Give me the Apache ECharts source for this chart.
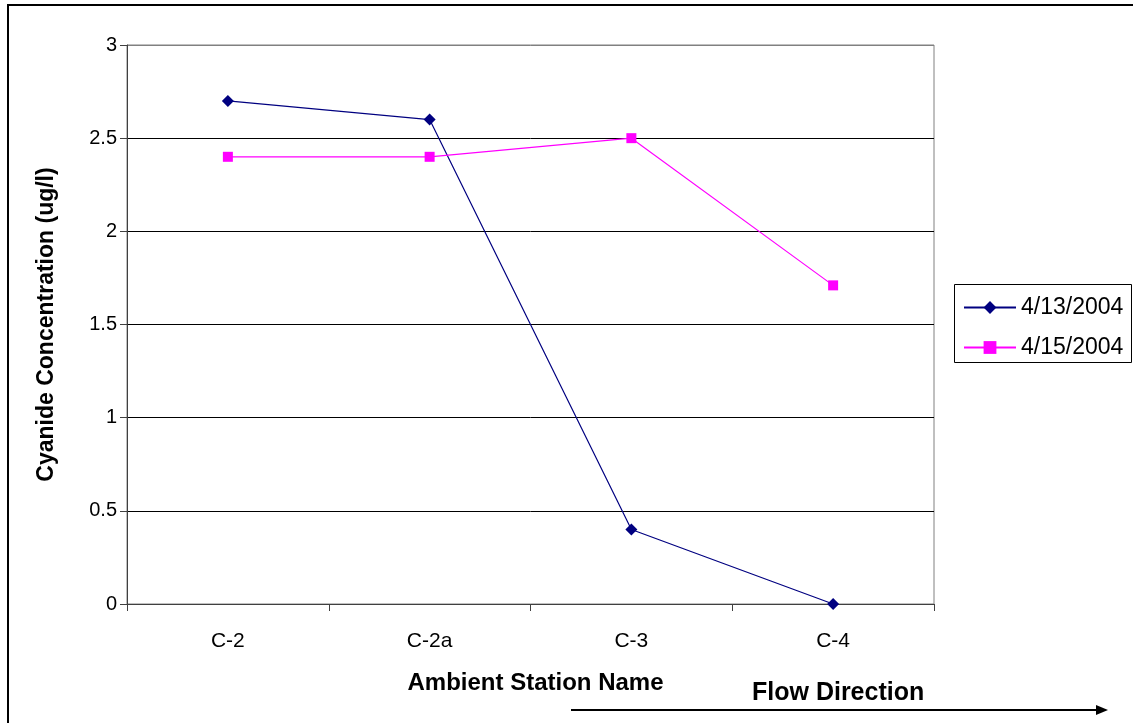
<!DOCTYPE html>
<html>
<head>
<meta charset="utf-8">
<script src="https://cdn.jsdelivr.net/npm/echarts@6/dist/echarts.min.js"></script>
<style>html,body{margin:0;padding:0;background:#fff;}#chart{width:1133px;height:723px;}</style>
</head>
<body>
<div id="chart"></div>
<script>
const categories = ['C-2', 'C-2a', 'C-3', 'C-4'];
const series1Name = '4/13/2004';
const series1 = [2.7, 2.6, 0.4, 0];
const series2Name = '4/15/2004';
const series2 = [2.4, 2.4, 2.5, 1.71];
const yTicks = [0, 0.5, 1, 1.5, 2, 2.5, 3];

const chart = echarts.init(document.getElementById('chart'));
const font = 'Liberation Sans, Arial, sans-serif';
chart.setOption({
  animation: false,
  backgroundColor: '#fff',
  grid: { left: 127, top: 45, width: 807, height: 559, show: true, borderColor: '#808080', borderWidth: 1 },
  xAxis: {
    type: 'category',
    data: categories,
    boundaryGap: true,
    name: 'Ambient Station Name',
    nameLocation: 'middle',
    nameGap: 67,
    nameTextStyle: { fontFamily: font, fontSize: 24, fontWeight: 'bold', color: '#000', padding: [0, 0, 0, 10] },
    axisLine: { lineStyle: { color: '#404040', width: 1 } },
    axisTick: { show: true, length: 7, lineStyle: { color: '#404040' } },
    axisLabel: { fontFamily: font, fontSize: 21, color: '#000', margin: 27 },
    splitLine: { show: false }
  },
  yAxis: {
    type: 'value',
    min: 0, max: 3, interval: 0.5,
    name: 'Cyanide Concentration (ug/l)',
    nameLocation: 'middle',
    nameGap: 69,
    nameTextStyle: { fontFamily: font, fontSize: 23, fontWeight: 'bold', color: '#000' },
    axisLine: { show: true, lineStyle: { color: '#404040', width: 1 } },
    axisTick: { show: true, length: 7, lineStyle: { color: '#404040' } },
    axisLabel: {
      fontFamily: font, fontSize: 20, color: '#000', margin: 10,
      formatter: v => (yTicks.indexOf(v) >= 0 ? String(v) : '')
    },
    splitLine: { show: true, lineStyle: { color: ['#000', '#000', '#000', '#000', '#000', '#000', '#808080'], width: 1 } }
  },
  legend: {
    orient: 'vertical',
    left: 958, top: 291,
    itemWidth: 52, itemHeight: 16,
    itemGap: 17,
    textStyle: { fontFamily: font, fontSize: 23, color: '#000' },
    data: [series1Name, series2Name]
  },
  series: [
    {
      name: series1Name, type: 'line', data: series1,
      symbol: 'diamond', symbolSize: 12,
      lineStyle: { color: '#000080', width: 1.2 },
      itemStyle: { color: '#000080' }
    },
    {
      name: series2Name, type: 'line', data: series2,
      symbol: 'rect', symbolSize: 10,
      lineStyle: { color: '#FF00FF', width: 1.2 },
      itemStyle: { color: '#FF00FF' }
    }
  ],
  graphic: [
    { type: 'rect', shape: { x: 8, y: 5, width: 1140, height: 730 }, style: { fill: 'none', stroke: '#000', lineWidth: 2 }, silent: true },
    { type: 'rect', shape: { x: 954.5, y: 284.5, width: 177, height: 78 }, style: { fill: 'none', stroke: '#000', lineWidth: 1 }, silent: true },
    { type: 'line', shape: { x1: 571, y1: 710, x2: 1098, y2: 710 }, style: { stroke: '#000', lineWidth: 2 }, silent: true },
    { type: 'polygon', shape: { points: [[1096, 705], [1108, 710], [1096, 715]] }, style: { fill: '#000' }, silent: true },
    { type: 'text', left: 752, top: 681, style: { text: 'Flow Direction', font: 'bold 25px Liberation Sans, Arial, sans-serif', fill: '#000' }, silent: true }
  ]
});
</script>
</body>
</html>
